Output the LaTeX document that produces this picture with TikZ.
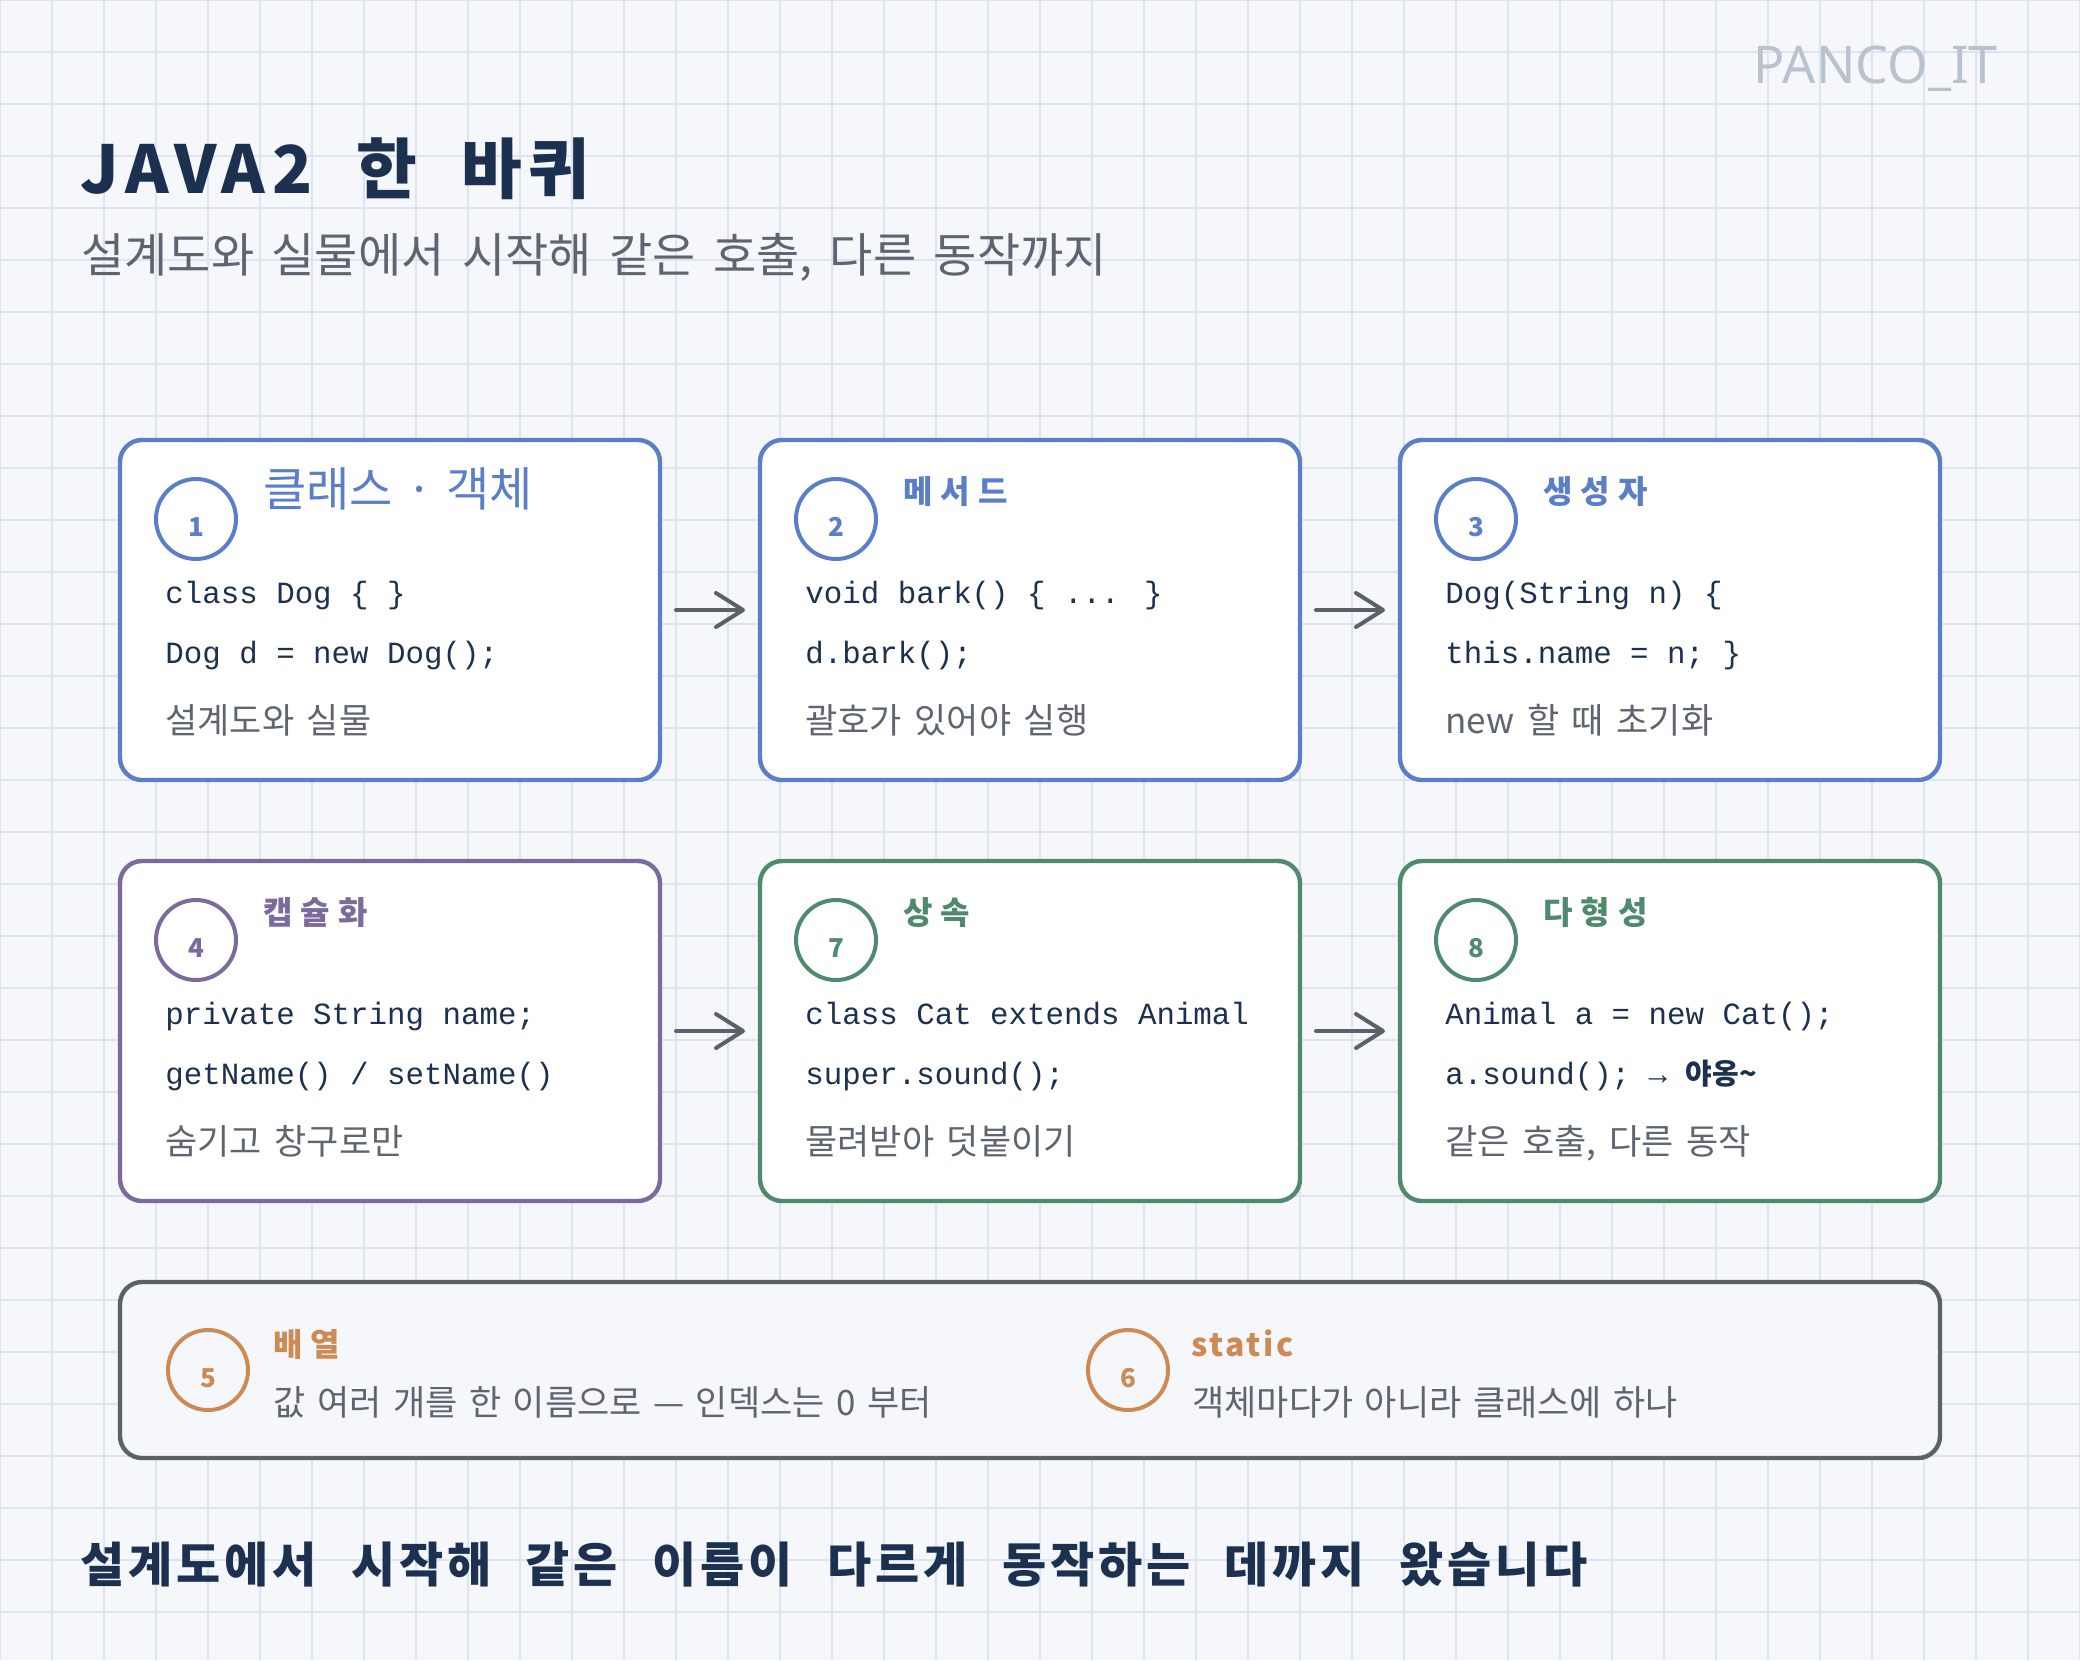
\documentclass[tikz,border=0pt]{standalone}
\usepackage{fontspec}
\usepackage{tikz}
\usetikzlibrary{arrows.meta, positioning, calc}
\setmainfont{Noto Sans CJK KR}
\newfontfamily\krfont{Noto Sans CJK KR}
\newfontfamily\handfont{Noto Sans CJK KR}
\newfontfamily\codefont{Liberation Mono}
\newfontfamily\brandfont{Noto Sans}
\definecolor{paper}{HTML}{F5F7FB}
\definecolor{gridblue}{HTML}{DCE4EF}
\definecolor{ink}{HTML}{1C3150}
\definecolor{notegray}{HTML}{5E6570}
\definecolor{brandgray}{HTML}{B9C3CF}
\definecolor{arrowgray}{HTML}{5A6169}
\definecolor{cblue}{HTML}{5B7EC8}
\definecolor{cpurple}{HTML}{7B6A9B}
\definecolor{cgreen}{HTML}{4F8A6F}
\definecolor{corange}{HTML}{CD8A55}
\definecolor{cslate}{HTML}{5A6169}
\tikzset{
    card/.style={
        rectangle, rounded corners=11pt, draw=#1, fill=white,
        minimum width=270pt, minimum height=170pt,
        line width=2.2pt, inner sep=0pt, outer sep=0pt
    },
    card/.default=cblue,
    widecard/.style={
        card=cslate, fill=paper, minimum width=910pt, minimum height=88pt
    },
    numcirc/.style={
        circle, draw=#1, line width=2pt, minimum size=40pt, inner sep=0pt,
        text=#1, text height=17.5pt, text depth=0pt,
        font={\handfont\bfseries\fontsize{13pt}{13pt}\selectfont}
    },
    cardhead/.style={
        anchor=base west, inner sep=0pt, text=#1,
        font={\handfont\bfseries\fontsize{16pt}{16pt}\selectfont\addfontfeatures{LetterSpace=25}}
    },
    codeline/.style={
        anchor=base west, inner sep=0pt, text=ink,
        font={\codefont\fontsize{15.4pt}{16pt}\selectfont}
    },
    cardnote/.style={
        anchor=base west, inner sep=0pt, text=notegray,
        font={\krfont\fontsize{17.5pt}{18pt}\selectfont\spaceskip=0.36em}
    },
    flowarrow/.style={
        -{Straight Barb[length=13.5pt, width=17pt, round]}, line width=2pt,
        color=arrowgray, line cap=round, shorten <=8pt, shorten >=7.5pt
    },
    gridline/.style={draw=gridblue, line width=0.8pt},
}
\begin{document}
\begin{tikzpicture}[x=0.5pt, y=-0.5pt]

    % ── Paper and grid ──
    \useasboundingbox (0,0) rectangle (2080,1660);
    \fill[paper] (0,0) rectangle (2080,1660);
    \foreach \gx in {0,52,...,2080} \draw[gridline] (\gx,0) -- (\gx,1660);
    \foreach \gy in {0,52,...,1612} \draw[gridline] (0,\gy) -- (2080,\gy);

    % ── Title ──
    \node[anchor=base west, inner sep=0pt, text=ink, font={\handfont\bfseries\fontsize{33pt}{33pt}\selectfont\addfontfeatures{LetterSpace=10}\spaceskip=0.67em}] (title) at (80,193) {JAVA2 한 바퀴};
    \node[anchor=base west, inner sep=0pt, text=notegray, font={\krfont\fontsize{23.5pt}{24pt}\selectfont\spaceskip=0.37em}] (subtitle) at (81,272) {설계도와 실물에서 시작해 같은 호출, 다른 동작까지};
    \node[anchor=base east, inner sep=0pt, text=brandgray, font={\brandfont\fontsize{26pt}{26pt}\selectfont}] (brand) at (1998,83) {PANCO\_IT};

    % ── Row 1 ──
    \node[card=cblue] (b1) at (390,610) {};
    \node[card=cblue, right=50pt of b1] (b2) {};
    \node[card=cblue, right=50pt of b2] (b3) {};

    \node[numcirc=cblue] (n1) at ($(b1.north west)+(76,79)$) {1};
    \node[cardhead=cblue, font={\krfont\fontsize{23.5pt}{24pt}\selectfont\spaceskip=0.29em}] (h1) at ($(b1.north west)+(143,66)$) {클래스 · 객체};
    \node[codeline] (c1a) at ($(b1.north west)+(45,163)$) {class Dog \{ \}};
    \node[codeline] (c1b) at ($(b1.north west)+(45,223)$) {Dog d = new Dog();};
    \node[cardnote] (d1) at ($(b1.north west)+(45,293)$) {설계도와 실물};

    \node[numcirc=cblue] (n2) at ($(b2.north west)+(76,79)$) {2};
    \node[cardhead=cblue] (h2) at ($(b2.north west)+(143,63)$) {메서드};
    \node[codeline] (c2a) at ($(b2.north west)+(45,163)$) {void bark() \{ ... \}};
    \node[codeline] (c2b) at ($(b2.north west)+(45,223)$) {d.bark();};
    \node[cardnote] (d2) at ($(b2.north west)+(45,293)$) {괄호가 있어야 실행};

    \node[numcirc=cblue] (n3) at ($(b3.north west)+(76,79)$) {3};
    \node[cardhead=cblue] (h3) at ($(b3.north west)+(143,63)$) {생성자};
    \node[codeline] (c3a) at ($(b3.north west)+(45,163)$) {Dog(String n) \{};
    \node[codeline] (c3b) at ($(b3.north west)+(45,223)$) {this.name = n; \}};
    \node[cardnote] (d3) at ($(b3.north west)+(45,293)$) {new 할 때 초기화};

    % ── Row 2 ──
    \node[card=cpurple, below=40.5pt of b1] (b4) {};
    \node[card=cgreen, right=50pt of b4] (b7) {};
    \node[card=cgreen, right=50pt of b7] (b8) {};

    \node[numcirc=cpurple] (n4) at ($(b4.north west)+(76,79)$) {4};
    \node[cardhead=cpurple] (h4) at ($(b4.north west)+(143,63)$) {캡슐화};
    \node[codeline] (c4a) at ($(b4.north west)+(45,163)$) {private String name;};
    \node[codeline] (c4b) at ($(b4.north west)+(45,223)$) {getName() / setName()};
    \node[cardnote] (d4) at ($(b4.north west)+(45,293)$) {숨기고 창구로만};

    \node[numcirc=cgreen] (n7) at ($(b7.north west)+(76,79)$) {7};
    \node[cardhead=cgreen] (h7) at ($(b7.north west)+(143,63)$) {상속};
    \node[codeline] (c7a) at ($(b7.north west)+(45,163)$) {class Cat extends Animal};
    \node[codeline] (c7b) at ($(b7.north west)+(45,223)$) {super.sound();};
    \node[cardnote] (d7) at ($(b7.north west)+(45,293)$) {물려받아 덧붙이기};

    \node[numcirc=cgreen] (n8) at ($(b8.north west)+(76,79)$) {8};
    \node[cardhead=cgreen] (h8) at ($(b8.north west)+(143,63)$) {다형성};
    \node[codeline] (c8a) at ($(b8.north west)+(45,163)$) {Animal a = new Cat();};
    \node[codeline] (c8b) at ($(b8.north west)+(45,223)$) {a.sound(); → {\handfont\bfseries\fontsize{14.5pt}{14.5pt}\selectfont 야옹\textasciitilde}};
    \node[cardnote] (d8) at ($(b8.north west)+(45,293)$) {같은 호출, 다른 동작};

    % ── Arrows ──
    \draw[flowarrow] (b1) -- (b2);
    \draw[flowarrow] (b2) -- (b3);
    \draw[flowarrow] (b4) -- (b7);
    \draw[flowarrow] (b7) -- (b8);

    % ── Array / static strip ──
    \node[widecard, below=40.5pt of b7] (b56) {};
    \node[numcirc=corange] (n5) at ($(b56.west)+(88,0)$) {5};
    \node[cardhead=corange] (h5) at ($(b56.north west)+(153,74)$) {배열};
    \node[cardnote, font={\krfont\fontsize{17.5pt}{18pt}\selectfont\spaceskip=0.33em}] (d5) at ($(b56.north west)+(153,133)$) {값 여러 개를 한 이름으로 — 인덱스는 0 부터};
    \node[numcirc=corange] (n6) at ($(b56.west)+(1008,0)$) {6};
    \node[cardhead=corange, font={\handfont\bfseries\fontsize{16pt}{16pt}\selectfont\addfontfeatures{LetterSpace=8}}] (h6) at ($(b56.north west)+(1071,74)$) {static};
    \node[cardnote, font={\krfont\fontsize{17.5pt}{18pt}\selectfont\spaceskip=0.33em}] (d6) at ($(b56.north west)+(1072,133)$) {객체마다가 아니라 클래스에 하나};

    % ── Closing line ──
    \node[anchor=base west, inner sep=0pt, text=ink, font={\handfont\bfseries\fontsize{24pt}{24pt}\selectfont\addfontfeatures{LetterSpace=8}\spaceskip=0.72em}] (closing) at (80,1582) {설계도에서 시작해 같은 이름이 다르게 동작하는 데까지 왔습니다};

\end{tikzpicture}
\end{document}
